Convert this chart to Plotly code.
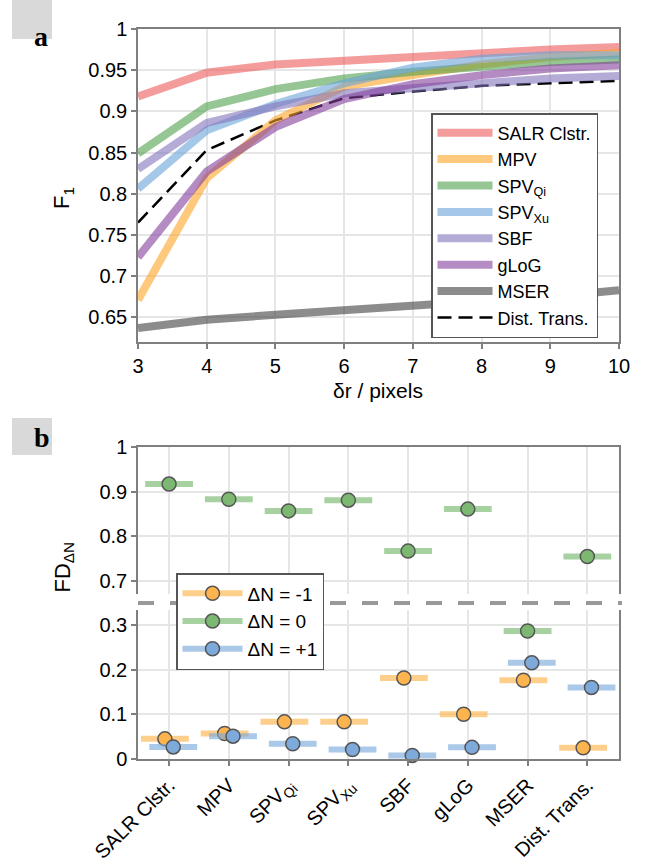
import plotly.graph_objects as go

W, H = 653, 865

# ---------------- Panel a data ----------------
dr = [3, 4, 5, 6, 7, 8, 9, 10]
salr = [0.918, 0.947, 0.957, 0.962, 0.966, 0.971, 0.975, 0.978]
mpv = [0.671, 0.819, 0.889, 0.930, 0.944, 0.957, 0.966, 0.971]
spv_qi = [0.849, 0.906, 0.927, 0.940, 0.948, 0.954, 0.960, 0.963]
spv_xu = [0.806, 0.877, 0.909, 0.934, 0.953, 0.964, 0.968, 0.968]
sbf = [0.830, 0.886, 0.906, 0.922, 0.928, 0.934, 0.940, 0.943]
glog = [0.723, 0.827, 0.881, 0.915, 0.933, 0.944, 0.952, 0.956]
mser = [0.637, 0.647, 0.653, 0.658, 0.663, 0.669, 0.675, 0.683]
dist = [0.765, 0.853, 0.889, 0.916, 0.924, 0.931, 0.934, 0.937]

series_a_names = ["SALR Clstr.", "MPV", "SPV<sub>Qi</sub>", "SPV<sub>Xu</sub>", "SBF", "gLoG", "MSER"]
series_a_values = [salr, mpv, spv_qi, spv_xu, sbf, glog, mser]
series_a_colors = ["rgba(237,88,88,0.6)", "rgba(253,163,38,0.6)", "rgba(80,160,77,0.6)",
                   "rgba(105,162,217,0.6)", "rgba(130,117,187,0.6)", "rgba(130,63,155,0.6)",
                   "rgba(63,63,63,0.6)"]
dist_name = "Dist. Trans."

a_yticks = [0.65, 0.7, 0.75, 0.8, 0.85, 0.9, 0.95, 1.0]
a_yticktext = ["0.65", "0.7", "0.75", "0.8", "0.85", "0.9", "0.95", "1"]
a_xticks = [3, 4, 5, 6, 7, 8, 9, 10]

# ---------------- Panel b data ----------------
categories = ["SALR Clstr.", "MPV", "SPV<sub>Qi</sub>", "SPV<sub>Xu</sub>", "SBF", "gLoG", "MSER", "Dist. Trans."]
fd_m1 = [0.045, 0.057, 0.083, 0.083, 0.181, 0.100, 0.176, 0.025]
fd_0 = [0.917, 0.883, 0.857, 0.881, 0.767, 0.861, 0.286, 0.755]
fd_p1 = [0.027, 0.051, 0.034, 0.021, 0.008, 0.026, 0.215, 0.160]
b_names = ["ΔN = -1", "ΔN = 0", "ΔN = +1"]
b_upper_ticks = [0.7, 0.8, 0.9, 1.0]
b_upper_ticktext = ["0.7", "0.8", "0.9", "1"]
b_lower_ticks = [0, 0.1, 0.2, 0.3]
b_lower_ticktext = ["0", "0.1", "0.2", "0.3"]

# styles
b_offsets = [-0.07, 0.0, 0.07]
b_halfwidth = 0.4
b_pt_colors = ["#fdb44f", "#7db872", "#7eaadb"]
b_bar_colors = ["rgba(253,185,90,0.7)", "rgba(120,185,110,0.65)", "rgba(125,170,220,0.65)"]
BREAK = 0.5

FONT = "Liberation Sans, Arial, sans-serif"
AX = "#7f7f7f"
GRID = "#e6e6e6"


def px_x(p):
    return p / W


def px_y(p):
    return 1 - p / H


fig = go.Figure()

# Panel a: dashed line first (drawn below), but ranked last in legend
fig.add_trace(go.Scatter(x=dr, y=dist, mode="lines", name=dist_name,
                         line=dict(color="black", width=2.5, dash="14px,7px"),
                         legendrank=100, xaxis="x", yaxis="y", legend="legend"))
for i, (nm, vals, col) in enumerate(zip(series_a_names, series_a_values, series_a_colors)):
    fig.add_trace(go.Scatter(x=dr, y=vals, mode="lines", name=nm,
                             line=dict(color=col, width=8), legendrank=i + 1,
                             xaxis="x", yaxis="y", legend="legend"))

# Panel b
b_series = [fd_m1, fd_0, fd_p1]
for k, vals in enumerate(b_series):
    for ax, cond in (("2", lambda v: v >= BREAK), ("3", lambda v: v < BREAK)):
        xs = [i + b_offsets[k] for i, v in enumerate(vals) if cond(v)]
        ys = [v for v in vals if cond(v)]
        fig.add_trace(go.Scatter(
            x=xs, y=ys, mode="markers", showlegend=False, cliponaxis=False,
            marker=dict(size=14, color=b_pt_colors[k], line=dict(color="#555555", width=1.5)),
            error_x=dict(type="constant", value=b_halfwidth, color=b_bar_colors[k],
                         thickness=6, width=0),
            xaxis="x" + ax, yaxis="y" + ax))
    # legend entry
    fig.add_trace(go.Scatter(
        x=[None], y=[None], mode="lines+markers", name=b_names[k],
        line=dict(color=b_bar_colors[k], width=6),
        marker=dict(size=14, color=b_pt_colors[k], line=dict(color="#555555", width=1.5)),
        xaxis="x3", yaxis="y3", legend="legend2"))

tickfont = dict(family=FONT, size=20, color="black")
common = dict(showline=True, linecolor=AX, linewidth=1.5, gridcolor=GRID, gridwidth=1.5,
              ticks="outside", tickcolor=AX, ticklen=5, tickwidth=1.5, tickfont=tickfont,
              zeroline=False, automargin=False)

fig.update_layout(
    width=W, height=H, margin=dict(l=0, r=0, t=0, b=0, autoexpand=False),
    paper_bgcolor="white", plot_bgcolor="white",
    font=dict(family=FONT, size=20, color="black"),
    xaxis=dict(domain=[px_x(138), px_x(619)], anchor="y", range=[3, 10],
               tickvals=a_xticks, mirror=True, **common),
    yaxis=dict(domain=[px_y(342), px_y(29)], anchor="x", range=[0.62, 1.0],
               tickvals=a_yticks, ticktext=a_yticktext, mirror=True, **common),
    xaxis2=dict(domain=[px_x(138), px_x(619)], anchor="y2", range=[-0.52, 7.53],
                tickvals=list(range(len(categories))), side="top", showline=True,
                linecolor=AX, linewidth=1.5, gridcolor=GRID, gridwidth=1.5,
                showticklabels=False, ticks="", zeroline=False, automargin=False),
    yaxis2=dict(domain=[px_y(594), px_y(447)], anchor="x2", range=[0.671, 1.0],
                tickvals=b_upper_ticks, ticktext=b_upper_ticktext, mirror=True, **common),
    xaxis3=dict(domain=[px_x(138), px_x(619)], anchor="y3", range=[-0.52, 7.53],
                tickvals=list(range(len(categories))), ticktext=categories,
                tickangle=-45, **common),
    yaxis3=dict(domain=[px_y(759), px_y(610)], anchor="x3", range=[0, 0.333],
                tickvals=b_lower_ticks, ticktext=b_lower_ticktext, mirror=True, **common),
    legend=dict(x=px_x(431), y=px_y(113), xanchor="left", yanchor="top",
                bgcolor="white", bordercolor="#555555", borderwidth=1.5,
                font=dict(family=FONT, size=18), tracegroupgap=0, itemwidth=55),
    legend2=dict(x=px_x(176), y=px_y(573), xanchor="left", yanchor="top",
                 bgcolor="white", bordercolor="#555555", borderwidth=1.5,
                 font=dict(family=FONT, size=19), itemwidth=60),
    shapes=[
        dict(type="rect", xref="paper", yref="paper", x0=px_x(12), x1=px_x(52),
             y0=px_y(39), y1=px_y(0), fillcolor="#d9d9d9", line=dict(width=0), layer="below"),
        dict(type="rect", xref="paper", yref="paper", x0=px_x(12), x1=px_x(52),
             y0=px_y(455), y1=px_y(418), fillcolor="#d9d9d9", line=dict(width=0), layer="below"),
        dict(type="line", xref="paper", yref="paper", x0=px_x(138), x1=px_x(622),
             y0=px_y(603), y1=px_y(603), line=dict(color="#999999", width=4, dash="16px,16px")),
    ],
    annotations=[
        dict(text="<b>a</b>", x=px_x(32), y=px_y(19), xref="paper", yref="paper",
             showarrow=False, font=dict(family="Liberation Serif, serif", size=28, color="black")),
        dict(text="<b>b</b>", x=px_x(32), y=px_y(437), xref="paper", yref="paper",
             showarrow=False, font=dict(family="Liberation Serif, serif", size=28, color="black")),
        dict(text="F<sub>1</sub>", x=px_x(47), y=px_y(185), xref="paper", yref="paper",
             showarrow=False, textangle=-90, font=dict(family=FONT, size=22)),
        dict(text="FD<sub>ΔN</sub>", x=px_x(47), y=px_y(595), xref="paper", yref="paper",
             showarrow=False, textangle=-90, font=dict(family=FONT, size=22)),
        dict(text="δr / pixels", x=px_x(378), y=px_y(390), xref="paper", yref="paper",
             showarrow=False, font=dict(family=FONT, size=21)),
    ],
)

fig.write_html("out.html", config={"displayModeBar": False},
               post_script="document.body.style.margin='0';")
